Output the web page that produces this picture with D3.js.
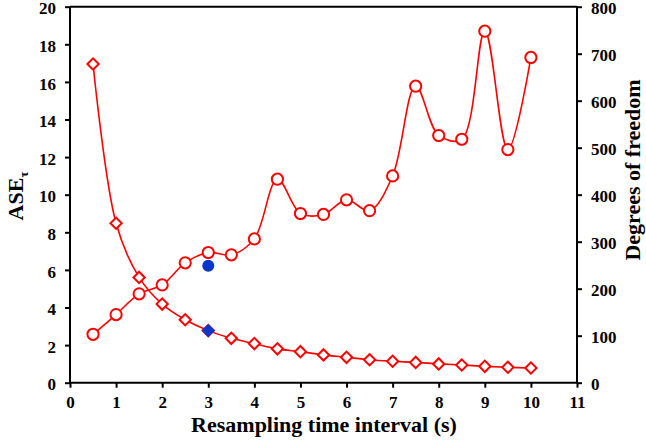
<!DOCTYPE html>
<html><head><meta charset="utf-8">
<script src="https://cdn.jsdelivr.net/npm/d3@7"></script>
<style>body{margin:0;background:#fff}svg{display:block}text{font-family:"Liberation Serif","Times New Roman",serif;font-weight:bold;fill:#000}</style>
</head><body><svg id="c" width="646" height="442"></svg>
<script>
const intervals = [0.5,1,1.5,2,2.5,3,3.5,4,4.5,5,5.5,6,6.5,7,7.5,8,8.5,9,9.5,10];
const aseValues = [16.95,8.48,5.6,4.18,3.35,2.77,2.36,2.08,1.8,1.65,1.48,1.35,1.22,1.14,1.08,1.0,0.94,0.87,0.82,0.78];
const dofValues = [103,145,189,208,255,277,272,306,433,360,358,389,366,440,631,526,518,748,496,692];
const highlightX = [3];
const highlightAse = [2.77];
const highlightDof = [249];
const xTicks = [0,1,2,3,4,5,6,7,8,9,10,11];
const leftTicks = [0,2,4,6,8,10,12,14,16,18,20];
const rightTicks = [0,100,200,300,400,500,600,700,800];

const svg = d3.select("#c");
const L=70, R=577, T=6.7, B=382.7;
const x = d3.scaleLinear().domain([0,11]).range([L,R]);
const yL = d3.scaleLinear().domain([0,20]).range([B,T]);
const yR = d3.scaleLinear().domain([0,800]).range([B,T]);

svg.append("line").attr("x1",L).attr("x2",R).attr("y1",T).attr("y2",T).attr("stroke","#000").attr("stroke-width",2);

const ax = svg.append("g").attr("transform",`translate(0,${B})`).call(d3.axisBottom(x).tickValues(xTicks).tickSize(5).tickSizeOuter(0).tickPadding(8));
const al = svg.append("g").attr("transform",`translate(${L},0)`).call(d3.axisLeft(yL).tickValues(leftTicks).tickSize(5).tickSizeOuter(0).tickPadding(9));
const ar = svg.append("g").attr("transform",`translate(${R},0)`).call(d3.axisRight(yR).tickValues(rightTicks).tickSize(5).tickSizeOuter(0).tickPadding(9));
[ax,al,ar].forEach(g=>{
  g.select(".domain").attr("stroke","#000").attr("stroke-width",2);
  g.selectAll(".tick line").attr("stroke","#000").attr("stroke-width",2);
  g.selectAll(".tick text").attr("font-size",17).attr("font-family","Liberation Serif").attr("font-weight","bold").attr("fill","#000");
});
al.selectAll(".tick text").attr("dy","0.42em");
ar.selectAll(".tick text").attr("dy","0.42em");
ax.select(".domain").attr("d",`M${L},0H${R}`);
al.select(".domain").attr("d",`M0,${B}V${T}`);
ar.select(".domain").attr("d",`M0,${B}V${T}`);

const red="#ff0000";
const lineL = d3.line().x((d,i)=>x(intervals[i])).y(d=>yL(d)).curve(d3.curveCatmullRom.alpha(0.5));
const lineR = d3.line().x((d,i)=>x(intervals[i])).y(d=>yR(d)).curve(d3.curveCatmullRom.alpha(0.5));

svg.append("path").attr("d",lineR(dofValues)).attr("fill","none").attr("stroke",red).attr("stroke-width",1.6);
svg.append("path").attr("d",lineL(aseValues)).attr("fill","none").attr("stroke",red).attr("stroke-width",1.6);

svg.selectAll("circle.dof").data(dofValues).enter().append("circle")
  .attr("cx",(d,i)=>x(intervals[i])).attr("cy",d=>yR(d)).attr("r",5.6)
  .attr("fill","#fff").attr("stroke",red).attr("stroke-width",2);

const diamond = d3.symbol().type(d3.symbolSquare).size(64);
svg.selectAll("path.ase").data(aseValues).enter().append("path")
  .attr("d",diamond).attr("transform",(d,i)=>`translate(${x(intervals[i])},${yL(d)}) rotate(45)`)
  .attr("fill","#fff").attr("stroke",red).attr("stroke-width",2);

const blue="#0a37c8";
svg.selectAll("circle.hl").data(highlightDof).enter().append("circle")
  .attr("cx",(d,i)=>x(highlightX[i])).attr("cy",d=>yR(d)).attr("r",6).attr("fill",blue);
svg.selectAll("path.hl").data(highlightAse).enter().append("path")
  .attr("d",d3.symbol().type(d3.symbolSquare).size(90))
  .attr("transform",(d,i)=>`translate(${x(highlightX[i])},${yL(d)}) rotate(45)`).attr("fill",blue);

svg.append("text").attr("x",324).attr("y",432).attr("text-anchor","middle").attr("font-size",22).text("Resampling time interval (s)");
const lt = svg.append("text").attr("transform",`translate(23,196) rotate(-90)`).attr("text-anchor","middle").attr("font-size",22);
lt.append("tspan").text("ASE");
lt.append("tspan").attr("font-size",13).attr("dy",5).text("τ");
svg.append("text").attr("transform",`translate(640,170) rotate(-90)`).attr("text-anchor","middle").attr("font-size",22).text("Degrees of freedom");
</script></body></html>
